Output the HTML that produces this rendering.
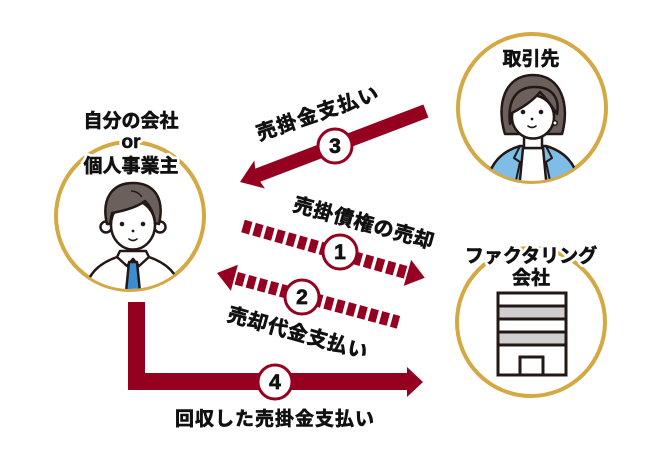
<!DOCTYPE html>
<html><head><meta charset="utf-8"><style>
html,body{margin:0;padding:0;background:#fff;}
svg{display:block;}
text{font-family:"Liberation Sans","Noto Sans CJK JP",sans-serif;font-weight:700;fill:#111;}
</style></head><body>
<svg width="655" height="460" viewBox="0 0 655 460" xmlns="http://www.w3.org/2000/svg">
<defs>
<clipPath id="cL"><circle cx="130" cy="216" r="73"/></clipPath>
<clipPath id="cR"><circle cx="532" cy="108" r="73"/></clipPath>
</defs>

<!-- circles -->
<circle cx="130" cy="216" r="74" fill="#fff" stroke="#D4A843" stroke-width="4"/>
<circle cx="532" cy="108" r="74" fill="#fff" stroke="#D4A843" stroke-width="4"/>
<circle cx="531" cy="322" r="74" fill="#fff" stroke="#D4A843" stroke-width="4"/>

<!-- man -->
<g clip-path="url(#cL)" stroke="#231815" stroke-width="2.5" stroke-linejoin="round">
  <path d="M84,295 C87,273 100,263 117,257 L149,257 C166,263 179,273 182,295 Z" fill="#fff"/>
  <path d="M117,257 L127,266 L133,259 L139,266 L149,257 L146,251 L120,251 Z" fill="#fff"/>
  <polygon points="129,262 137,262 140,292 126,292" fill="#3C8DD0"/>
  <circle cx="106" cy="227" r="5.5" fill="#fff"/>
  <circle cx="160" cy="227" r="5.5" fill="#fff"/>
  <ellipse cx="133" cy="225" rx="22" ry="24.5" fill="#fff"/>
  <path d="M107,224 C101,199 112,183 133,183 C154,183 165,198 159,224 L155,223 C154,213 150,206 145,201 C136,208 123,211 112,213 L110,224 Z" fill="#6B605C"/>
  <path d="M131,191 C136,191 140,194 142,197" fill="none" stroke-width="1.5"/>
</g>
<g fill="#231815">
  <circle cx="122" cy="224" r="2.3"/>
  <circle cx="143" cy="224" r="2.3"/>
  <circle cx="133" cy="231" r="1.4"/>
</g>
<path d="M129,239 Q133,242 137,239" fill="none" stroke="#231815" stroke-width="1.6" stroke-linecap="round"/>

<!-- woman -->
<g clip-path="url(#cR)" stroke="#231815" stroke-width="2.5" stroke-linejoin="round">
  <path d="M505,134 C496,106 504,75 533,75 C562,75 570,106 562,134 Z" fill="#6B605C"/>
  <path d="M486,188 C489,162 503,151 520,146 L546,146 C563,151 577,162 580,188 Z" fill="#7DBDE6"/>
  <polygon points="523,148 543,148 547,190 519,190" fill="#fff"/>
  <path d="M520,146 L514,158 L520,162 L515,185 M546,146 L552,158 L546,162 L551,185" fill="none" stroke-width="2"/>
  <rect x="524" y="132" width="18" height="16" fill="#fff"/>
  <ellipse cx="533" cy="117" rx="21" ry="21.5" fill="#fff"/>
  <path d="M510,124 C507,98 518,87 535,87 C552,87 560,98 557,114 C551,105 545,97 540,92 C532,102 521,108 512,113 Z" fill="#6B605C"/>
  <circle cx="555" cy="123" r="2.2" fill="#fff" stroke-width="1.5"/>
</g>
<g fill="#231815">
  <circle cx="523" cy="112" r="2.3"/>
  <circle cx="541" cy="112" r="2.3"/>
  <circle cx="532" cy="119" r="1.4"/>
</g>
<path d="M528,126 Q532,129 536,126" fill="none" stroke="#231815" stroke-width="1.6" stroke-linecap="round"/>

<!-- building -->
<g stroke="#231815" stroke-width="3">
  <rect x="498" y="293" width="68" height="82" fill="#fff"/>
  <rect x="498" y="306" width="68" height="13" fill="#CFCFCF"/>
  <rect x="498" y="332" width="68" height="13" fill="#CFCFCF"/>
  <rect x="520" y="357" width="23" height="18" fill="#fff"/>
</g>

<!-- arrow 3 -->
<g transform="translate(240,182) rotate(-20.9)">
  <polygon points="0,0 21,-15 19,-7 199,-7 199,7 19,7 21,15" fill="#960020"/>
</g>

<!-- arrow 1 dashed -->
<g transform="translate(243,226) rotate(15.9)">
  <line x1="0" y1="0" x2="172" y2="0" stroke="#960020" stroke-width="13" stroke-dasharray="8 3.5"/>
  <polygon points="189,0 171,-13.5 171,13.5" fill="#960020"/>
</g>
<!-- arrow 2 dashed -->
<g transform="translate(217,273) rotate(15.2)">
  <polygon points="0,0 18,-13.5 18,13.5" fill="#960020"/>
  <line x1="20" y1="0" x2="188" y2="0" stroke="#960020" stroke-width="13" stroke-dasharray="8 3.5"/>
</g>

<!-- arrow 4 -->
<polygon points="128,302 145,302 145,373 407,373 407,367 423,382 407,397 407,390 128,390" fill="#960020"/>

<!-- number circles -->
<g fill="#fff" stroke="#960020" stroke-width="3">
  <circle cx="335" cy="146" r="17"/>
  <circle cx="340" cy="252" r="17"/>
  <circle cx="302" cy="297" r="17"/>
  <circle cx="275" cy="382" r="17"/>
</g>
<g font-size="21" text-anchor="middle" stroke="#111" stroke-width="0.7">
  <text x="335" y="153">3</text>
  <text x="340" y="259">1</text>
  <text x="302" y="304">2</text>
  <text x="275" y="389">4</text>
</g>

<!-- labels: white halo layer -->
<g font-size="19" text-anchor="middle" stroke="#fff" stroke-width="6" stroke-linejoin="round" fill="#fff">
  <text x="131" y="148">or</text>
  <text x="131" y="172">個人事業主</text>
  <text x="531" y="262">ファクタリング</text>
  <text x="531" y="284">会社</text>
</g>
<g font-size="19" text-anchor="middle" stroke="#111" stroke-width="0.6">
  <text x="131" y="127">自分の会社</text>
  <text x="131" y="148">or</text>
  <text x="131" y="172">個人事業主</text>
  <text x="531" y="65">取引先</text>
  <text x="531" y="262">ファクタリング</text>
  <text x="531" y="284">会社</text>
</g>
<g font-size="20" text-anchor="middle" stroke="#111" stroke-width="0.6">
  <text transform="translate(318,113) rotate(-19)" y="7" letter-spacing="1.5">売掛金支払い</text>
  <text transform="translate(364,223) rotate(15.4)" y="7" letter-spacing="0.8">売掛債権の売却</text>
  <text transform="translate(298,333) rotate(15.5)" y="7" letter-spacing="0.7">売却代金支払い</text>
  <text x="275" y="425" font-size="19" letter-spacing="1">回収した売掛金支払い</text>
</g>
</svg>
</body></html>
